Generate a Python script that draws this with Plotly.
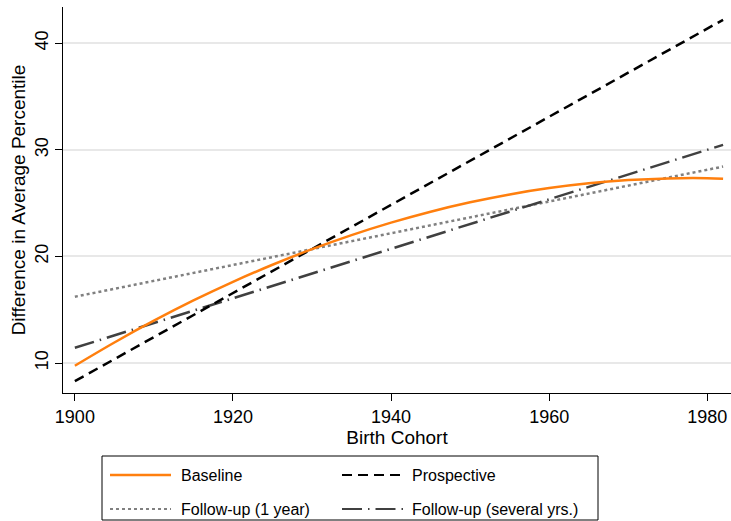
import plotly.graph_objects as go

# ---- data ----
baseline_years = [1900, 1905, 1910, 1915, 1920, 1925, 1930, 1935, 1940, 1945,
                  1950, 1955, 1960, 1965, 1970, 1975, 1980, 1982]
baseline_vals = [9.75, 11.93, 13.97, 15.87, 17.62, 19.22, 20.68, 22.00, 23.17, 24.20,
                 25.08, 25.82, 26.41, 26.86, 27.16, 27.32, 27.34, 27.30]

prospective_years = [1900, 1982]
prospective_vals = [8.3, 42.2]

followup1_years = [1900, 1982]
followup1_vals = [16.22, 28.43]

followupN_years = [1900, 1982]
followupN_vals = [11.43, 30.47]

series_names = ["Baseline", "Prospective", "Follow-up (1 year)", "Follow-up (several yrs.)"]
x_ticks = [1900, 1920, 1940, 1960, 1980]
y_ticks = [10, 20, 30, 40]

FONT = "Liberation Sans, Arial, Helvetica, sans-serif"
ORANGE = "#ff7f0e"
styles = [
    dict(color=ORANGE, width=2.5, dash="solid"),
    dict(color="#000000", width=2.5, dash="10px,6px"),
    dict(color="#808080", width=2.5, dash="3px,3px"),
    dict(color="#404040", width=2.5, dash="20px,6px,1.5px,6px"),
]

fig = go.Figure()
data = [(baseline_years, baseline_vals), (prospective_years, prospective_vals),
        (followup1_years, followup1_vals), (followupN_years, followupN_vals)]
# draw order: dotted, dash-dot, dashed, orange on top
for i in [2, 3, 1, 0]:
    xs, ys = data[i]
    ln = dict(styles[i])
    if i == 0:
        ln["shape"] = "spline"
        ln["smoothing"] = 1.0
    fig.add_trace(go.Scatter(x=xs, y=ys, mode="lines", name=series_names[i],
                             line=ln, showlegend=False, hoverinfo="skip"))

W, H = 731, 521
ML, MR, MT, MB = 63, 0, 7, 128
PW, PH = W - ML - MR, H - MT - MB

def px(x):
    return (x - ML) / PW

def py(y):
    return (H - MB - y) / PH

# custom legend box
fig.add_shape(type="rect", xref="paper", yref="paper",
              x0=px(102), x1=px(598), y0=py(520), y1=py(456),
              line=dict(color="black", width=1), fillcolor="white", layer="above")
rows = [475, 509]
cols = [(110, 171, 179), (342, 403, 410)]
legend_order = [0, 1, 2, 3]
for k, idx in enumerate(legend_order):
    r, c = divmod(k, 2)
    x0, x1, xt = cols[c]
    st = styles[idx]
    fig.add_shape(type="line", xref="paper", yref="paper",
                  x0=px(x0), x1=px(x1), y0=py(rows[r]), y1=py(rows[r]),
                  line=dict(color=st["color"], width=2 if idx else 2.5, dash=st["dash"]),
                  layer="above")
    fig.add_annotation(xref="paper", yref="paper", x=px(xt), y=py(rows[r]),
                       text=series_names[idx], showarrow=False, xanchor="left",
                       yanchor="middle", font=dict(family=FONT, size=16, color="black"))

fig.update_layout(
    width=W, height=H,
    margin=dict(l=ML, r=MR, t=MT, b=MB, pad=0),
    paper_bgcolor="white", plot_bgcolor="white",
    font=dict(family=FONT, size=18, color="black"),
    showlegend=False,
)
fig.update_xaxes(range=[1898.5, 1983.0], tickvals=x_ticks, ticks="outside", ticklen=7,
                 tickwidth=1, tickcolor="black", showline=True, linecolor="black",
                 linewidth=1, showgrid=False, zeroline=False,
                 tickfont=dict(family=FONT, size=18),
                 title=dict(text="Birth Cohort", font=dict(family=FONT, size=19), standoff=4))
fig.update_yaxes(range=[7.19, 43.4], tickvals=y_ticks, ticks="outside", ticklen=7,
                 tickwidth=1, tickcolor="black", showline=True, linecolor="black",
                 linewidth=1, showgrid=True, gridcolor="#e8e8e8", gridwidth=1.5,
                 zeroline=False, tickangle=-90,
                 tickfont=dict(family=FONT, size=18),
                 title=dict(text="Difference in Average Percentile",
                            font=dict(family=FONT, size=19), standoff=1))

fig.write_html("out.html")
